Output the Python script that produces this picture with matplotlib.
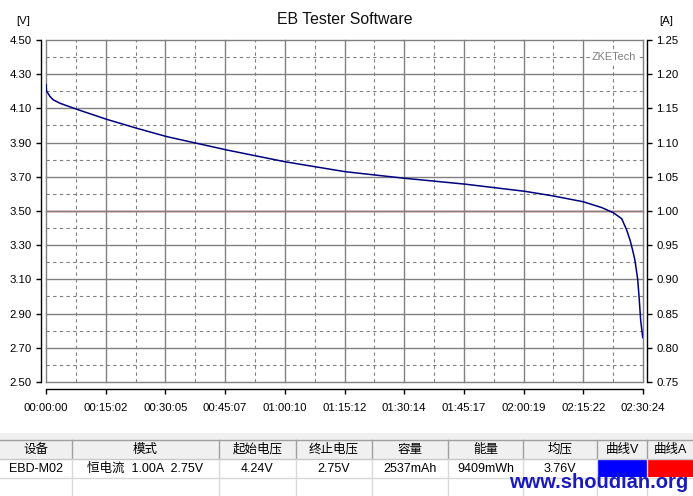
import matplotlib
matplotlib.use('Agg')
import matplotlib.pyplot as plt
from matplotlib.ticker import FixedLocator
from matplotlib.patches import Rectangle
from matplotlib.lines import Line2D

# ---- data ----
time_s = [0, 5, 11, 60, 110, 212, 464, 918, 1371, 1825, 2278, 2731, 3613, 4520,
          5427, 5805, 6334, 7241, 7668, 8122, 8400, 8575, 8702, 8777, 8828,
          8868, 8903, 8944, 8968, 8989, 9020]
voltage = [4.24, 4.21, 4.20, 4.17, 4.15, 4.13, 4.095, 4.036, 3.984, 3.935, 3.896,
           3.857, 3.788, 3.730, 3.691, 3.677, 3.657, 3.615, 3.588, 3.554,
           3.52, 3.49, 3.455, 3.389, 3.33, 3.27, 3.21, 3.10, 2.98, 2.86, 2.76]
current_t = [0, 9020]
current = [1.00, 1.00]

x_ticks_s = [0, 902.4, 1804.8, 2707.2, 3609.6, 4512, 5414.4, 6316.8, 7219.2, 8121.6, 9024]
x_labels = ["00:00:00", "00:15:02", "00:30:05", "00:45:07", "01:00:10", "01:15:12",
            "01:30:14", "01:45:17", "02:00:19", "02:15:22", "02:30:24"]
v_ticks = [2.50, 2.70, 2.90, 3.10, 3.30, 3.50, 3.70, 3.90, 4.10, 4.30, 4.50]
a_ticks = [0.75, 0.80, 0.85, 0.90, 0.95, 1.00, 1.05, 1.10, 1.15, 1.20, 1.25]

headers = ["设备", "模式", "起始电压", "终止电压", "容量", "能量", "均压", "曲线V", "曲线A"]
values = ["EBD-M02", "恒电流  1.00A  2.75V", "4.24V", "2.75V", "2537mAh", "9409mWh", "3.76V", "", ""]
cell_colors = [None, None, None, None, None, None, None, "#0000ff", "#ff0000"]

W, H = 693, 496
FONT = ['Liberation Sans', 'Noto Sans CJK SC', 'DejaVu Sans']
plt.rcParams['font.family'] = FONT

fig = plt.figure(figsize=(W / 100, H / 100), dpi=100)
fig.patch.set_facecolor('white')

L, R, T, B = 46, 643, 40, 382
ax = fig.add_axes([L / W, 1 - B / H, (R - L) / W, (B - T) / H])
ax2 = ax.twinx()

ax.set_xlim(0, 9024)
ax.set_ylim(2.5, 4.5)
ax2.set_ylim(0.75, 1.25)

# grid
gcol = '#808080'
x_minor = [(a + b) / 2 for a, b in zip(x_ticks_s[:-1], x_ticks_s[1:])]
v_minor = [(a + b) / 2 for a, b in zip(v_ticks[:-1], v_ticks[1:])]
for xv in x_ticks_s:
    ax.axvline(xv, color=gcol, lw=1.0, zorder=1, clip_on=False)
for xv in x_minor:
    ax.axvline(xv, color=gcol, lw=0.8, ls=(0, (3, 3)), zorder=1)
for yv in v_ticks:
    ax.axhline(yv, color=gcol, lw=1.0, zorder=1, clip_on=False)
for yv in v_minor:
    ax.axhline(yv, color=gcol, lw=0.8, ls=(0, (3, 3)), zorder=1)

ax2.plot(current_t, current, color='#c00000', lw=1.0, zorder=3)
ax.plot(time_s, voltage, color='#000080', lw=1.1, zorder=4)
ax.set_zorder(ax2.get_zorder() + 1)
ax.patch.set_visible(False)

# spines
for s in ['top', 'right']:
    ax.spines[s].set_visible(False)
for s in ['top', 'left', 'bottom']:
    ax2.spines[s].set_visible(False)
ax.spines['left'].set_position(('outward', 3.6))
ax.spines['bottom'].set_position(('outward', 5))
ax2.spines['right'].set_position(('outward', 2.9))
for sp in [ax.spines['left'], ax.spines['bottom'], ax2.spines['right']]:
    sp.set_color('black')
    sp.set_linewidth(1.0)

ax.xaxis.set_major_locator(FixedLocator(x_ticks_s))
ax.set_xticklabels(x_labels)
ax.yaxis.set_major_locator(FixedLocator(v_ticks))
ax.set_yticklabels([f"{v:.2f}" for v in v_ticks])
ax2.yaxis.set_major_locator(FixedLocator(a_ticks))
ax2.set_yticklabels([f"{v:.2f}" for v in a_ticks])

ax.tick_params(axis='x', direction='out', length=3.6, width=1, pad=6.5, labelsize=8.2, colors='black')
ax.tick_params(axis='y', direction='out', length=3.6, width=1, pad=3, labelsize=8.2, colors='black')
ax2.tick_params(axis='y', direction='out', length=3.6, width=1, pad=3, labelsize=8.2, colors='black')

def px(x, y):
    return x / W, 1 - y / H

# titles / labels
fig.text(*px(345, 20), "EB Tester Software", ha='center', va='center', fontsize=11.4, color='#101010')
fig.text(*px(23, 21), "[V]", ha='center', va='center', fontsize=8.2)
fig.text(*px(666, 21), "[A]", ha='center', va='center', fontsize=8.2)
fig.text(*px(614, 57), "ZKETech", ha='center', va='center', fontsize=7.8, color='#808080',
         bbox=dict(facecolor='white', edgecolor='none', pad=0.5))

# ---- table ----
col_edges = [0, 72, 219, 296, 372, 448, 523, 597, 647, 693]
band_top, hdr_top, hdr_bot, row_bot = 433, 440, 459, 478

fig.add_artist(Rectangle(px(0, hdr_top), 1, (hdr_top - band_top) / H, transform=fig.transFigure,
                         facecolor='#f0f0f0', edgecolor='none'))
fig.add_artist(Rectangle(px(0, hdr_bot), 1, (hdr_bot - hdr_top) / H, transform=fig.transFigure,
                         facecolor='#f0f0f0', edgecolor='none'))
for i, col in enumerate(cell_colors):
    if col:
        x0, x1 = col_edges[i], col_edges[i + 1]
        fig.add_artist(Rectangle(px(x0 + 1, row_bot - 1), (x1 - x0 - 1) / W, (row_bot - hdr_bot - 2) / H,
                                 transform=fig.transFigure, facecolor=col, edgecolor='none'))

def hline(y, color, x0=0, x1=W):
    fig.add_artist(Line2D([x0 / W, x1 / W], [1 - y / H, 1 - y / H], transform=fig.transFigure,
                          color=color, lw=1.0))

def vline(x, y0, y1, color):
    fig.add_artist(Line2D([x / W, x / W], [1 - y0 / H, 1 - y1 / H], transform=fig.transFigure,
                          color=color, lw=1.0))

hline(hdr_top, '#a0a0a0')
hline(hdr_bot, '#c8c8c8')
hline(row_bot, '#d8d8d8')
for xe in col_edges[1:-1]:
    vline(xe, hdr_top, hdr_bot, '#a0a0a0')
    vline(xe, hdr_bot, H, '#d8d8d8')

for i, (h, v) in enumerate(zip(headers, values)):
    cx = (col_edges[i] + col_edges[i + 1]) / 2
    fig.text(*px(cx, (hdr_top + hdr_bot) / 2), h, ha='center', va='center', fontsize=9, color='black')
    if v:
        fig.text(*px(cx, (hdr_bot + row_bot) / 2), v, ha='center', va='center', fontsize=9, color='black')

fig.text(*px(599, 483), "www.shoudian.org", ha='center', va='center', fontsize=14.5,
         fontweight='heavy', color='#1a1ac0')

fig.savefig('out.png', dpi=100, facecolor='white')
